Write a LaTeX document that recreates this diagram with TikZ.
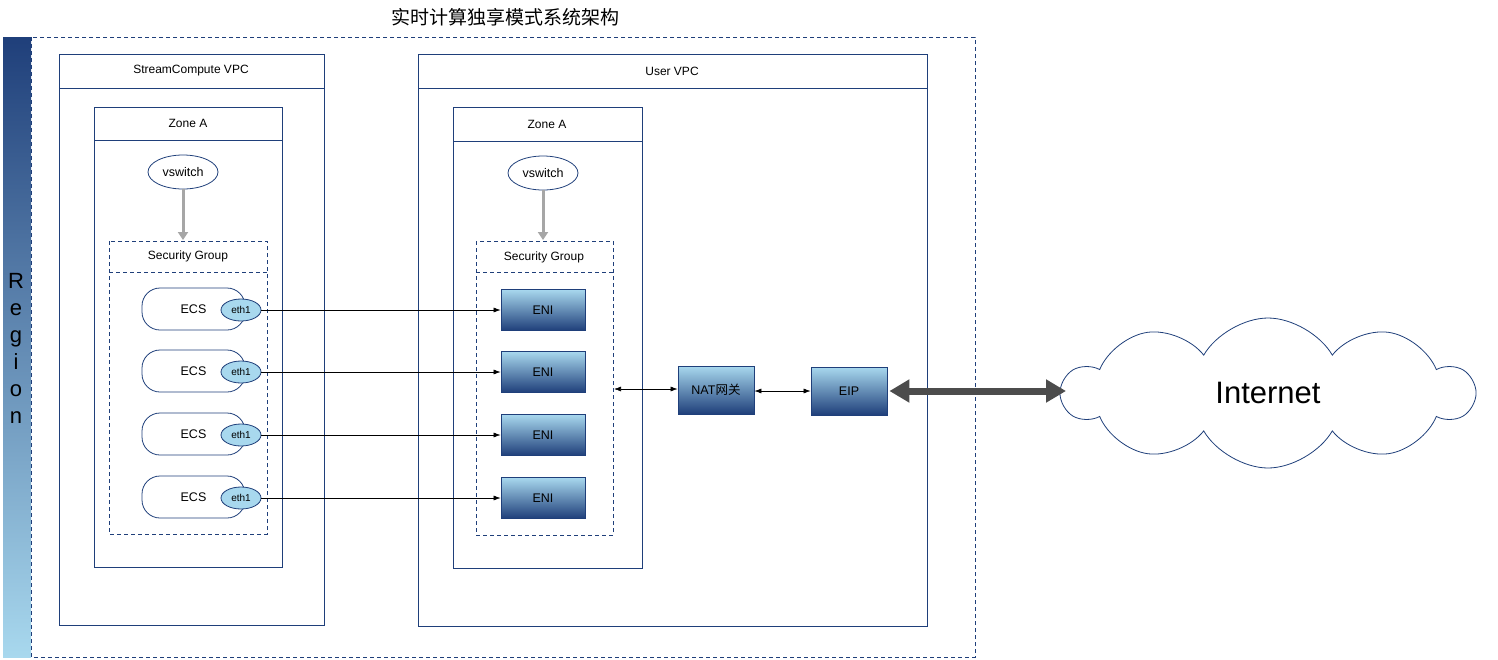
\documentclass[tikz,border=0pt]{standalone}
\usepackage{fontspec}
\setmainfont{Liberation Sans}
\newfontfamily\cjk{Noto Sans CJK SC}
\usetikzlibrary{shapes.symbols,shapes.geometric,arrows.meta}
\definecolor{bl}{HTML}{1F3F7A}
\definecolor{lb}{HTML}{A8D8EE}
\begin{document}
\begin{tikzpicture}[x=1pt,y=-1pt,
  box/.style={draw=bl,line width=0.8pt},
  dbox/.style={draw=bl,line width=0.8pt,dash pattern=on 4pt off 3pt},
  lab/.style={font=\fontsize{12}{13}\selectfont},
  ecs/.style={draw=bl,line width=0.8pt,rounded corners=18pt,minimum width=103pt,minimum height=42pt,font=\fontsize{12.5}{13}\selectfont,text width=80pt,align=center},
  eth/.style={draw=bl,line width=0.8pt,ellipse,fill=lb,minimum width=40pt,minimum height=22pt,inner sep=0pt,font=\fontsize{10}{11}\selectfont},
  grad/.style={draw=bl,line width=0.8pt,top color=lb,bottom color=bl,middle color=lb!50!bl,font=\fontsize{12.5}{13}\selectfont,inner sep=0pt},
  eni/.style={grad,minimum width=84pt,minimum height=41pt},
  vsw/.style={draw=bl,line width=0.8pt,ellipse,minimum width=70pt,minimum height=34pt,font=\fontsize{12.5}{13}\selectfont},
  garr/.style={-{Triangle[length=8pt,width=10pt]},draw=gray!70,line width=3pt},
  conn/.style={-{Latex[length=7pt,width=5pt]},line width=0.6pt},
  bconn/.style={{Latex[length=7pt,width=5pt]}-{Latex[length=7pt,width=5pt]},line width=0.6pt}]
\useasboundingbox (0,0) rectangle (1498,659);
% region
\shade[top color=bl,bottom color=lb] (3,37) rectangle (31,657);
\node[font=\fontsize{22}{27}\selectfont,align=center] (reg) at (16,348) {R\\e\\g\\i\\o\\n};
\draw[dbox] (31,37) rectangle (975,657);
\node[font=\cjk\fontsize{19}{22}\selectfont] (title) at (505,17) {实时计算独享模式系统架构};
% left VPC
\draw[box] (59,54) rectangle (324,625); \draw[box] (59,88) -- (324,88);
\node[lab] (vpc1) at (191,71) {StreamCompute VPC};
\draw[box] (94,107) rectangle (282,567); \draw[box] (94,140) -- (282,140);
\node[lab] (za1) at (188,123) {Zone A};
\node[vsw] (vs1) at (183,172) {vswitch};
\coordinate (sg1t) at (183,240);
\draw[garr] (vs1) -- (sg1t);
\draw[dbox] (109,241) rectangle (267,534); \draw[dbox] (109,272) -- (267,272);
\node[lab] (sg1) at (188,256) {Security Group};
% right VPC
\draw[box] (418,54) rectangle (927,626); \draw[box] (418,88) -- (927,88);
\node[lab] (vpc2) at (672,71) {User VPC};
\draw[box] (453,107) rectangle (642,568); \draw[box] (453,141) -- (642,141);
\node[lab] (za2) at (547,124) {Zone A};
\node[vsw] (vs2) at (543,173) {vswitch};
\coordinate (sg2t) at (543,240);
\draw[garr] (vs2) -- (sg2t);
\draw[dbox] (476,241) rectangle (613,535); \draw[dbox] (476,272) -- (613,272);
\node[lab] (sg2) at (544,257) {Security Group};
% ECS & ENI
\foreach \i/\y in {1/309,2/371,3/434,4/497}{
  \node[ecs] (ecs\i) at (193.5,\y) {ECS\hspace*{22pt}};
  \node[eth] (eth\i) at (241,\y+1) {eth1};
  \node[eni] (eni\i) at (543,\y+1) {ENI};
  \draw[conn] (eth\i) -- (eni\i);
}
\node[grad,minimum width=76pt,minimum height=48pt] (nat) at (716,390) {NAT{\cjk 网关}};
\node[grad,minimum width=76pt,minimum height=48pt] (eip) at (849,391) {EIP};
\coordinate (sgr) at (614,389);
\draw[bconn] (sgr) -- (nat.west|-sgr);
\draw[bconn] (nat.east|-eip) -- (eip);
\node[draw=bl,line width=0.8pt,cloud,cloud puffs=10,cloud puff arc=120,aspect=3.2,minimum width=410pt,minimum height=150pt,font=\fontsize{31}{34}\selectfont] (inet) at (1268,393) {Internet};
\draw[{Triangle[length=20pt,width=22pt]}-{Triangle[length=20pt,width=22pt]},draw=gray!60!black,line width=7pt] (eip.east) ++(2,0) -- (1066,391);
\end{tikzpicture}
\end{document}
